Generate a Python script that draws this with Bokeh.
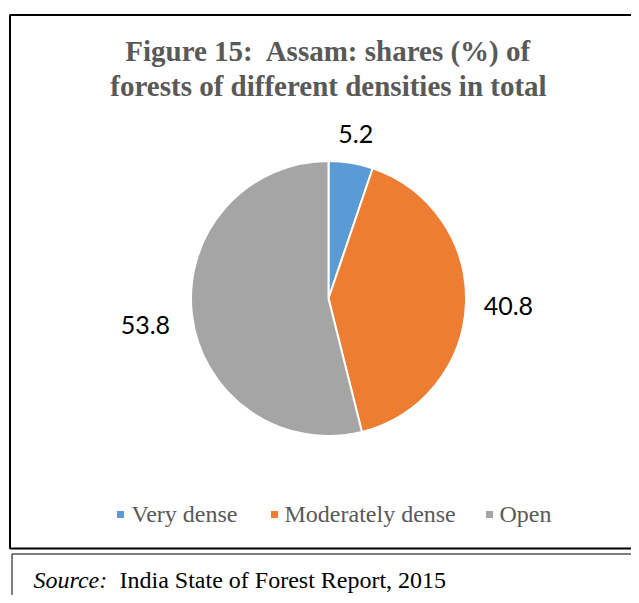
import math
from bokeh.plotting import figure
from bokeh.models import Range1d, BoxAnnotation, ColumnDataSource
from bokeh.core.properties import value
from bokeh.embed import file_html
from bokeh.resources import INLINE

# ---- data ----
categories = ["Very dense", "Moderately dense", "Open"]
shares = [5.2, 40.8, 53.8]
colors = ["#5B9BD5", "#ED7D31", "#A5A5A5"]
title_lines = ["Figure 15:\u00a0 Assam: shares (%) of", "forests of different densities in total"]
source_label = "Source:"
source_text = "India State of Forest Report, 2015"

W, H = 631, 595
p = figure(width=W, height=H, x_range=Range1d(0, W), y_range=Range1d(0, H),
           output_backend="svg", toolbar_location=None, min_border=0)
p.axis.visible = False
p.grid.visible = False
p.outline_line_color = None
p.background_fill_color = "white"
p.border_fill_color = "white"

def Y(img_y):
    return H - img_y

# frames
p.add_layout(BoxAnnotation(left=9.5, right=720, top=Y(14.5), bottom=Y(548), fill_alpha=0,
                           line_color="black", line_alpha=1, line_width=2))
p.add_layout(BoxAnnotation(left=11.5, right=720, top=Y(553.5), bottom=-20, fill_alpha=0,
                           line_color="black", line_alpha=1, line_width=1))

# pie
cx, cy, r = 328, Y(298), 137.5
total = sum(shares)
starts, ends, mids = [], [], []
cum = 0.0
for s in shares:
    a0 = math.pi / 2 - 2 * math.pi * cum / total
    cum += s
    a1 = math.pi / 2 - 2 * math.pi * cum / total
    starts.append(a0)
    ends.append(a1)
    mids.append((a0 + a1) / 2)

src = ColumnDataSource(dict(start=starts, end=ends, color=colors, cat=categories))
p.wedge(x=cx, y=cy, radius=r, start_angle="start", end_angle="end", direction="clock",
        fill_color="color", line_color="white", line_width=2, source=src)

# data labels
label_dist = [167, 180, 185]
label_turn = [0.0, 0.0, -0.02]
lx = [cx + d * math.cos(m - t) for d, m, t in zip(label_dist, mids, label_turn)]
ly = [cy + d * math.sin(m - t) for d, m, t in zip(label_dist, mids, label_turn)]
p.text(x=lx, y=ly, text=[f"{v:.1f}" for v in shares], text_font=value("Lato"),
       text_font_size="25px", text_color="black", text_align="center", text_baseline="middle")

# title
p.text(x=[328, 328], y=[Y(50), Y(85)], text=title_lines, text_font=value("Liberation Serif"),
       text_font_style="bold", text_font_size="29px", text_color="#595959",
       text_align="center", text_baseline="middle")

# source
p.text(x=[33], y=[Y(579)], text=[source_label], text_font=value("Liberation Serif"),
       text_font_style="italic", text_font_size="24px", text_color="black",
       text_align="left", text_baseline="middle")
p.text(x=[119], y=[Y(579)], text=[source_text], text_font=value("Liberation Serif"),
       text_font_size="24px", text_color="black",
       text_align="left", text_baseline="middle")

# legend (manual)
marker_x = [120, 274, 489]
label_x = [131, 284, 499]
p.scatter(x=marker_x, y=[Y(514)] * 3, marker="square", size=7, fill_color=colors, line_color=None)
p.text(x=label_x, y=[Y(513)] * 3, text=categories, text_font=value("Liberation Serif"),
       text_font_size="24px", text_color="#595959", text_align="left", text_baseline="middle")

open("out.html", "w").write(file_html(p, INLINE))
